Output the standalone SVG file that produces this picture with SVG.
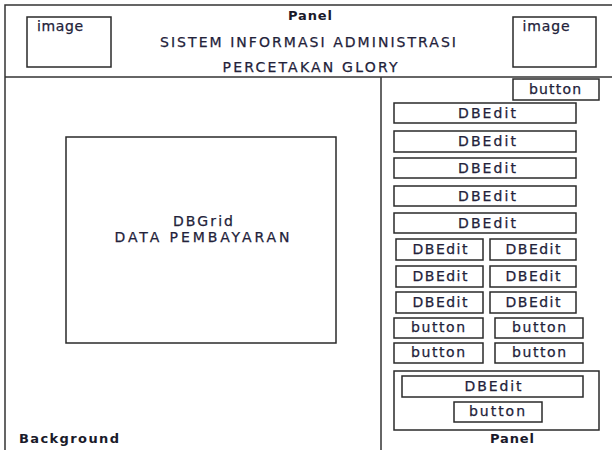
<svg xmlns="http://www.w3.org/2000/svg" width="612" height="450" viewBox="0 0 612 450">
<style>
.box{fill:none;stroke:#2a2a2a;stroke-width:1.5}
.ln{fill:none;stroke:#333;stroke-width:1.5}
.t{font-family:"DejaVu Sans","Open Sans",sans-serif;font-size:14px;fill:#23223a;stroke:#23223a;stroke-width:0.25;text-anchor:middle}
.b{font-family:"DejaVu Sans","Open Sans",sans-serif;font-size:13px;font-weight:bold;fill:#1a1a2a}
</style>
<rect width="612" height="450" fill="#fff"/>
<g id="frame">
<path class="ln" d="M5,450 V5 H612"/>
<line class="ln" x1="5" y1="77" x2="612" y2="77"/>
<line class="ln" x1="381" y1="77" x2="381" y2="450"/>
</g>
<g id="header">
<text class="b" x="310" y="20" text-anchor="middle" textLength="44">Panel</text>
<text class="t" x="308" y="47" textLength="296">SISTEM INFORMASI ADMINISTRASI</text>
<text class="t" x="310" y="72" textLength="175">PERCETAKAN GLORY</text>
</g>
<g id="image-left"><rect class="box" x="27" y="17" width="84" height="50"/><text class="t" x="60" y="31" textLength="46">image</text></g>
<g id="image-right"><rect class="box" x="513" y="17" width="83" height="50"/><text class="t" x="546" y="31" textLength="47">image</text></g>
<g id="dbgrid"><rect class="box" x="66" y="137" width="270" height="206"/>
<text class="t" x="203" y="226" textLength="60">DBGrid</text>
<text class="t" x="202" y="242" textLength="175">DATA PEMBAYARAN</text></g>
<g id="background-label"><text class="b" x="19" y="443" textLength="100">Background</text></g>
<g id="btn-top"><rect class="box" x="513" y="79" width="86" height="21"/><text class="t" x="555" y="94" textLength="52">button</text></g>
<g id="dbedit1"><rect class="box" x="394" y="103" width="182" height="20"/><text class="t" x="487" y="118" textLength="58">DBEdit</text></g>
<g id="dbedit2"><rect class="box" x="394" y="131" width="182" height="21"/><text class="t" x="487" y="146" textLength="58">DBEdit</text></g>
<g id="dbedit3"><rect class="box" x="394" y="158" width="182" height="20"/><text class="t" x="487" y="173" textLength="58">DBEdit</text></g>
<g id="dbedit4"><rect class="box" x="394" y="186" width="182" height="20"/><text class="t" x="487" y="201" textLength="58">DBEdit</text></g>
<g id="dbedit5"><rect class="box" x="394" y="213" width="182" height="20"/><text class="t" x="487" y="228" textLength="58">DBEdit</text></g>
<g id="dbedit6"><rect class="box" x="396" y="239" width="87" height="21"/><text class="t" x="440" y="254" textLength="55">DBEdit</text></g>
<g id="dbedit7"><rect class="box" x="490" y="239" width="86" height="21"/><text class="t" x="533" y="254" textLength="55">DBEdit</text></g>
<g id="dbedit8"><rect class="box" x="396" y="266" width="87" height="21"/><text class="t" x="440" y="281" textLength="55">DBEdit</text></g>
<g id="dbedit9"><rect class="box" x="490" y="266" width="86" height="21"/><text class="t" x="533" y="281" textLength="55">DBEdit</text></g>
<g id="dbedit10"><rect class="box" x="396" y="292" width="87" height="21"/><text class="t" x="440" y="307" textLength="55">DBEdit</text></g>
<g id="dbedit11"><rect class="box" x="490" y="292" width="86" height="21"/><text class="t" x="533" y="307" textLength="55">DBEdit</text></g>
<g id="button1"><rect class="box" x="394" y="318" width="89" height="20"/><text class="t" x="438" y="332" textLength="54">button</text></g>
<g id="button2"><rect class="box" x="495" y="318" width="88" height="20"/><text class="t" x="539" y="332" textLength="54">button</text></g>
<g id="button3"><rect class="box" x="394" y="343" width="89" height="20"/><text class="t" x="438" y="357" textLength="54">button</text></g>
<g id="button4"><rect class="box" x="495" y="343" width="88" height="20"/><text class="t" x="539" y="357" textLength="54">button</text></g>
<g id="panel-bottom"><rect class="box" x="394" y="371" width="205" height="59"/>
<rect class="box" x="402" y="376" width="181" height="21"/><text class="t" x="493" y="391" textLength="57">DBEdit</text>
<rect class="box" x="454" y="402" width="88" height="20"/><text class="t" x="497" y="416" textLength="56">button</text>
<text class="b" x="512" y="443" text-anchor="middle" textLength="44">Panel</text></g>
</svg>
